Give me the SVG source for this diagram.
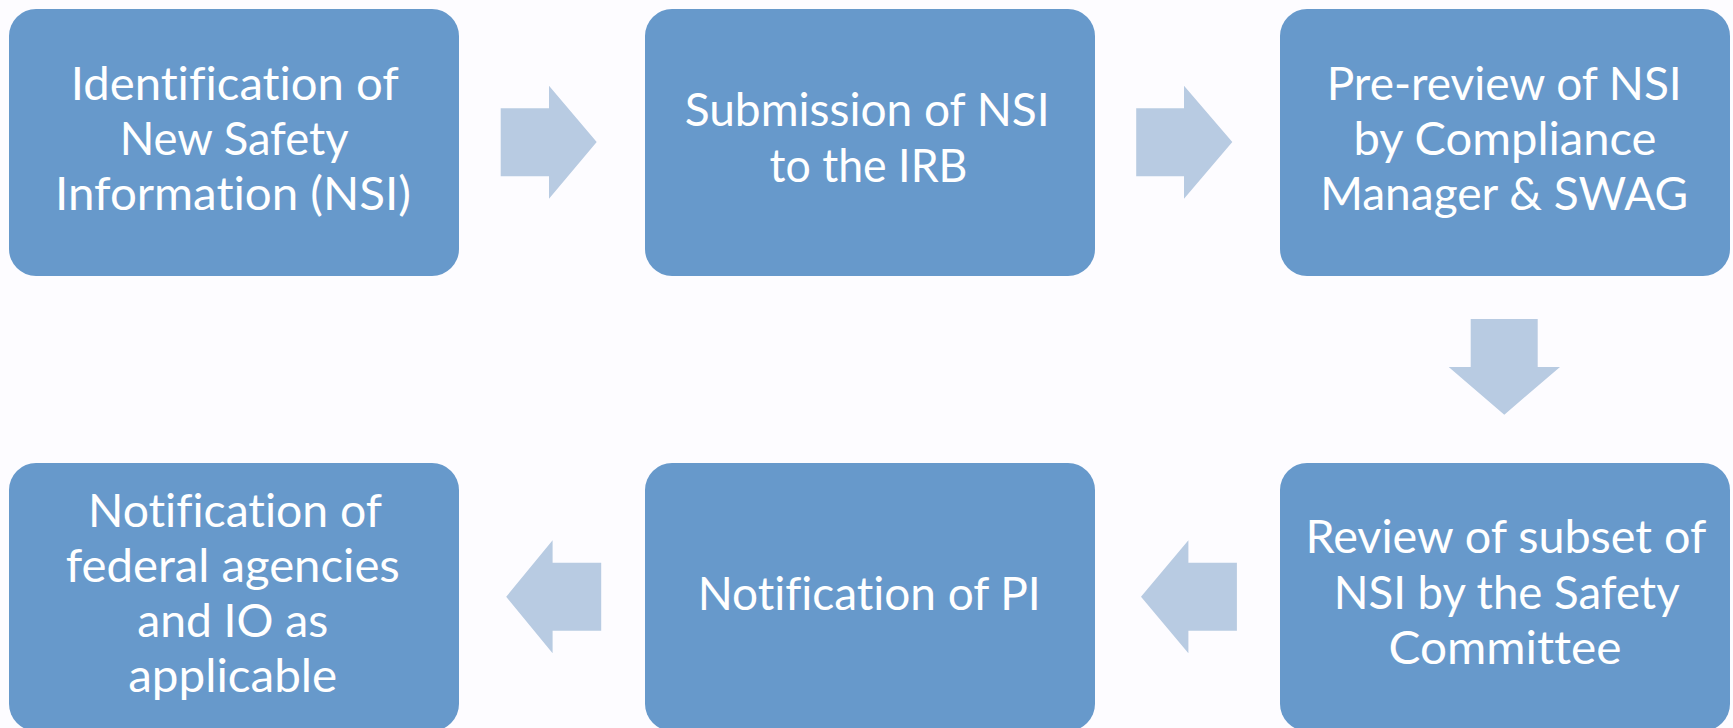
<svg xmlns="http://www.w3.org/2000/svg" width="1733" height="728" viewBox="0 0 1733 728">
<style>
.box{fill:#6799CB;}
.arr{fill:#B8CBE2;}
.t{font-family:Lato,"Open Sans","Liberation Sans",sans-serif;font-size:46px;fill:#FFFFFF;text-anchor:middle;font-variant-ligatures:none;font-feature-settings:"liga" 0;}
</style>
<rect width="1733" height="728" fill="#FDFCFF"/>
<g id="connectors">
<polygon class="arr" points="500.7,108.3 549,108.3 549,85.7 596.7,142 549,198.7 549,176.3 500.7,176.3"/>
<polygon class="arr" points="1136.2,108.3 1184,108.3 1184,85.7 1232.3,142 1184,198.7 1184,176.3 1136.2,176.3"/>
<polygon class="arr" points="1470.7,319 1537.7,319 1537.7,367 1560,367 1504.3,414.7 1448.7,367 1470.7,367"/>
<polygon class="arr" points="1236.9,562.8 1188.4,562.8 1188.4,540.3 1141,596.8 1188.4,653.3 1188.4,630.8 1236.9,630.8"/>
<polygon class="arr" points="601.2,562.8 552.6,562.8 552.6,540.3 506.2,596.8 552.6,653.3 552.6,630.8 601.2,630.8"/>
</g>
<g id="node1">
<rect class="box" x="9" y="9" width="450" height="267" rx="27"/>
<text class="t" x="234.8" y="100" textLength="328" lengthAdjust="spacingAndGlyphs">Identification of</text>
<text class="t" x="234.2" y="155" textLength="229" lengthAdjust="spacingAndGlyphs">New Safety</text>
<text class="t" x="233" y="210" textLength="356" lengthAdjust="spacingAndGlyphs">Information (NSI)</text>
</g>
<g id="node2">
<rect class="box" x="645" y="9" width="450" height="267" rx="27"/>
<text class="t" x="867.2" y="126" textLength="365" lengthAdjust="spacingAndGlyphs">Submission of NSI</text>
<text class="t" x="868.5" y="182" textLength="198" lengthAdjust="spacingAndGlyphs">to the IRB</text>
</g>
<g id="node3">
<rect class="box" x="1280" y="9" width="450" height="267" rx="27"/>
<text class="t" x="1504.2" y="100" textLength="355" lengthAdjust="spacingAndGlyphs">Pre-review of NSI</text>
<text class="t" x="1505" y="155" textLength="303" lengthAdjust="spacingAndGlyphs">by Compliance</text>
<text class="t" x="1504.2" y="210" textLength="368" lengthAdjust="spacingAndGlyphs">Manager &amp; SWAG</text>
</g>
<g id="node4">
<rect class="box" x="9" y="463" width="450" height="268" rx="27"/>
<text class="t" x="235" y="526.7" textLength="294" lengthAdjust="spacingAndGlyphs">Notification of</text>
<text class="t" x="232.8" y="581.7" textLength="334" lengthAdjust="spacingAndGlyphs">federal agencies</text>
<text class="t" x="232.7" y="637.3" textLength="191" lengthAdjust="spacingAndGlyphs">and IO as</text>
<text class="t" x="232.7" y="691.7" textLength="209" lengthAdjust="spacingAndGlyphs">applicable</text>
</g>
<g id="node5">
<rect class="box" x="645" y="463" width="450" height="268" rx="27"/>
<text class="t" x="869.2" y="610" textLength="343" lengthAdjust="spacingAndGlyphs">Notification of PI</text>
</g>
<g id="node6">
<rect class="box" x="1280" y="463" width="450" height="268" rx="27"/>
<text class="t" x="1505.9" y="553.3" textLength="401" lengthAdjust="spacingAndGlyphs">Review of subset of</text>
<text class="t" x="1506.7" y="609" textLength="346" lengthAdjust="spacingAndGlyphs">NSI by the Safety</text>
<text class="t" x="1505" y="664" textLength="233" lengthAdjust="spacingAndGlyphs">Committee</text>
</g>
</svg>
